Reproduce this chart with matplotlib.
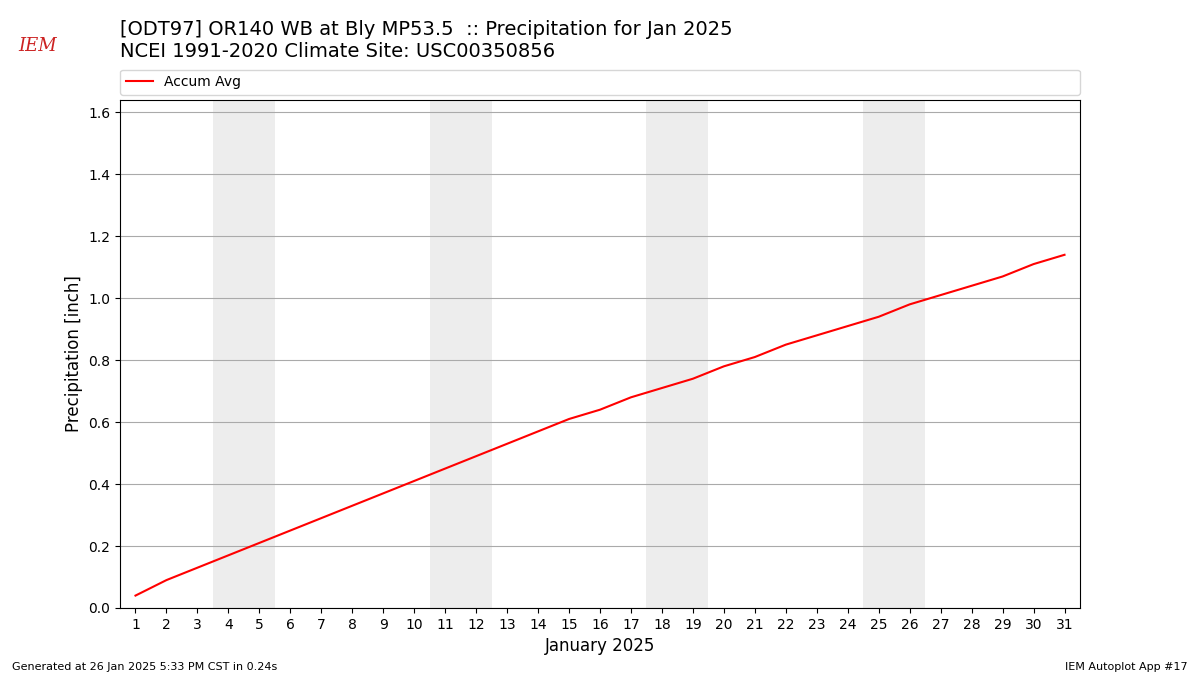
import matplotlib
matplotlib.use("Agg")
import matplotlib.pyplot as plt
import numpy as np

days = list(range(1, 32))
accum_avg = [0.04, 0.09, 0.13, 0.17, 0.21, 0.25, 0.29, 0.33, 0.37, 0.41,
             0.45, 0.49, 0.53, 0.57, 0.61, 0.64, 0.68, 0.71, 0.74, 0.78,
             0.81, 0.85, 0.88, 0.91, 0.94, 0.98, 1.01, 1.04, 1.07, 1.11, 1.14]
weekends = [4, 11, 18, 25]  # saturdays, shade sat+sun

fig = plt.figure(figsize=(12, 6.75), dpi=100)
ax = fig.add_axes([0.1, 0.0993, 0.8, 0.7527])

for sat in weekends:
    ax.axvspan(sat - 0.5, sat + 1.5, color="#ededed", zorder=0, lw=0)

ax.plot(days, accum_avg, color="r", lw=1.5, label="Accum Avg", zorder=3)

ax.set_xlim(0.5, 31.5)
ax.set_ylim(0, 1.64)
ax.set_xticks(days)
ax.set_yticks(np.arange(0, 1.61, 0.2))
ax.grid(axis="y", color="#aaaaaa", lw=0.8)
ax.set_axisbelow(True)
ax.set_xlabel("January 2025", fontsize=12)
ax.set_ylabel("Precipitation [inch]", fontsize=12)

ax.legend(loc="lower left", bbox_to_anchor=(0, 1.01, 1, 0.05), mode="expand",
          ncol=1, borderaxespad=0, fontsize=10)

fig.text(0.1, 0.91, "[ODT97] OR140 WB at Bly MP53.5  :: Precipitation for Jan 2025\n"
         "NCEI 1991-2020 Climate Site: USC00350856", fontsize=14, va="bottom", ha="left")

# rough logo
fig.text(0.031, 0.932, "IEM", color="#cc2222", fontsize=13, style="italic",
         family="DejaVu Serif", ha="center", va="center")

fig.text(0.01, 0.008, "Generated at 26 Jan 2025 5:33 PM CST in 0.24s", fontsize=8)
fig.text(0.99, 0.008, "IEM Autoplot App #17", fontsize=8, ha="right")

fig.savefig("out.png", dpi=100)
